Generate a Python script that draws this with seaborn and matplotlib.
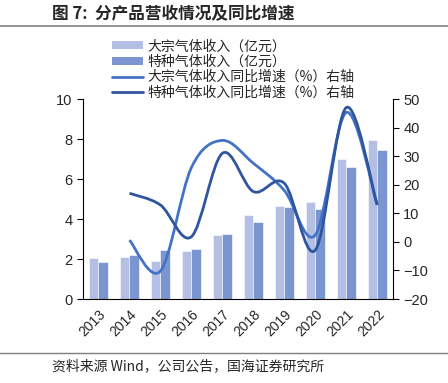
import numpy as np
import pandas as pd
import matplotlib
matplotlib.use("Agg")
import matplotlib.pyplot as plt
from matplotlib.path import Path
from matplotlib.patches import PathPatch, Patch
from matplotlib.lines import Line2D
import seaborn as sns

years = ["2013", "2014", "2015", "2016", "2017", "2018", "2019", "2020", "2021", "2022"]
bulk_rev = [2.05, 2.08, 1.90, 2.40, 3.22, 4.20, 4.67, 4.83, 7.00, 7.93]
special_rev = [1.85, 2.18, 2.45, 2.50, 3.25, 3.83, 4.62, 4.48, 6.58, 7.45]
bulk_growth = [np.nan, 0.6, -10.2, 26.0, 35.5, 27.5, 18.0, 2.4, 45.3, 12.9]
special_growth = [np.nan, 17.0, 12.9, 1.8, 31.0, 17.6, 20.5, -2.9, 47.0, 12.9]

names = ["大宗气体收入（亿元）", "特种气体收入（亿元）",
         "大宗气体收入同比增速（%）右轴", "特种气体收入同比增速（%）右轴"]
c_bulk_bar = "#B3BFE3"
c_spec_bar = "#7B95D0"
c_bulk_line = "#4472C4"
c_spec_line = "#2F559E"

sns.set_style("white")
plt.rcParams['font.family'] = ['Liberation Sans', 'Noto Sans CJK SC', 'DejaVu Sans']

df = pd.DataFrame({
    "year": years * 2,
    "value": bulk_rev + special_rev,
    "series": [names[0]] * len(years) + [names[1]] * len(years),
})

fig = plt.figure(figsize=(4.48, 3.83), dpi=100)
ax = fig.add_axes([0.1853, 0.2193, 0.8766 - 0.1853, 0.7415 - 0.2193])
sns.barplot(data=df, x="year", y="value", hue="series", palette=[c_bulk_bar, c_spec_bar],
            width=0.6, edgecolor="white", linewidth=0.4, ax=ax, legend=False, saturation=1)
ax.set_xlim(-0.5, len(years) - 0.5)
ax.set_ylim(0, 10)
ax.set_yticks([0, 2, 4, 6, 8, 10])
ax.set_xlabel("")
ax.set_ylabel("")

ax2 = ax.twinx()
ax2.set_ylim(-20, 50)
ax2.set_yticks(range(-20, 51, 10))


def smooth_path(xs, ys):
    pts = np.array([(x, y) for x, y in zip(xs, ys) if not np.isnan(y)], dtype=float)
    verts = [tuple(pts[0])]
    codes = [Path.MOVETO]
    n = len(pts)
    for i in range(n - 1):
        p0 = pts[i - 1] if i > 0 else pts[i]
        p1 = pts[i]
        p2 = pts[i + 1]
        p3 = pts[i + 2] if i + 2 < n else pts[i + 1]
        c1 = p1 + (p2 - p0) / 6.0
        c2 = p2 - (p3 - p1) / 6.0
        verts += [tuple(c1), tuple(c2), tuple(p2)]
        codes += [Path.CURVE4] * 3
    return Path(verts, codes)


xpos = np.arange(len(years))
for ys, col in [(bulk_growth, c_bulk_line), (special_growth, c_spec_line)]:
    ax2.add_patch(PathPatch(smooth_path(xpos, ys), facecolor="none", edgecolor=col,
                            linewidth=2.0, capstyle="butt", joinstyle="round"))

for a in (ax, ax2):
    a.spines["top"].set_visible(False)
    for s in ("left", "right", "bottom"):
        a.spines[s].set_color("#000000")
        a.spines[s].set_linewidth(0.8)
ax.spines["right"].set_visible(False)
ax2.spines["left"].set_visible(False)
ax2.spines["bottom"].set_visible(False)

ax.set_xticks(np.arange(len(years) + 1) - 0.5, minor=True)
ax.set_xticks(xpos)
ax.set_xticklabels(years, rotation=45, ha="right", rotation_mode="anchor", fontsize=10)
ax.tick_params(axis="x", which="major", length=0, pad=6)
ax.tick_params(axis="x", which="minor", length=4, width=0.8, direction="out", color="black")
ax.tick_params(axis="y", length=4, width=0.8, direction="out", color="black", labelsize=10.5, left=True)
ax2.tick_params(axis="y", length=4, width=0.8, direction="out", color="black", labelsize=10.5, right=True)

handles = [Patch(facecolor=c_bulk_bar, edgecolor="none"),
           Patch(facecolor=c_spec_bar, edgecolor="none"),
           Line2D([0], [0], color=c_bulk_line, lw=2),
           Line2D([0], [0], color=c_spec_line, lw=2)]
leg = fig.legend(handles, names, loc="upper left", bbox_to_anchor=(0.238, 0.912),
                 frameon=False, handlelength=2.2, handleheight=0.5,
                 labelspacing=0.1, handletextpad=0.35, borderaxespad=0,
                 prop={'family': ['Noto Sans CJK SC', 'DejaVu Sans'], 'size': 10})

fig.text(0.116, 0.962, "图 7:  分产品营收情况及同比增速", fontsize=12, fontweight="bold",
         va="center", ha="left", family=['Noto Sans CJK SC', 'DejaVu Sans'])
fig.add_artist(Line2D([0, 1], [0.931, 0.931], color="#7F7F7F", lw=1.2, transform=fig.transFigure))
fig.add_artist(Line2D([0, 1], [0.078, 0.078], color="#7F7F7F", lw=1.0, transform=fig.transFigure))
fig.text(0.116, 0.044, "资料来源 Wind，公司公告，国海证券研究所", fontsize=10,
         va="center", ha="left", family=['Noto Sans CJK SC', 'Liberation Sans', 'DejaVu Sans'])

fig.savefig("out.png", dpi=100)
